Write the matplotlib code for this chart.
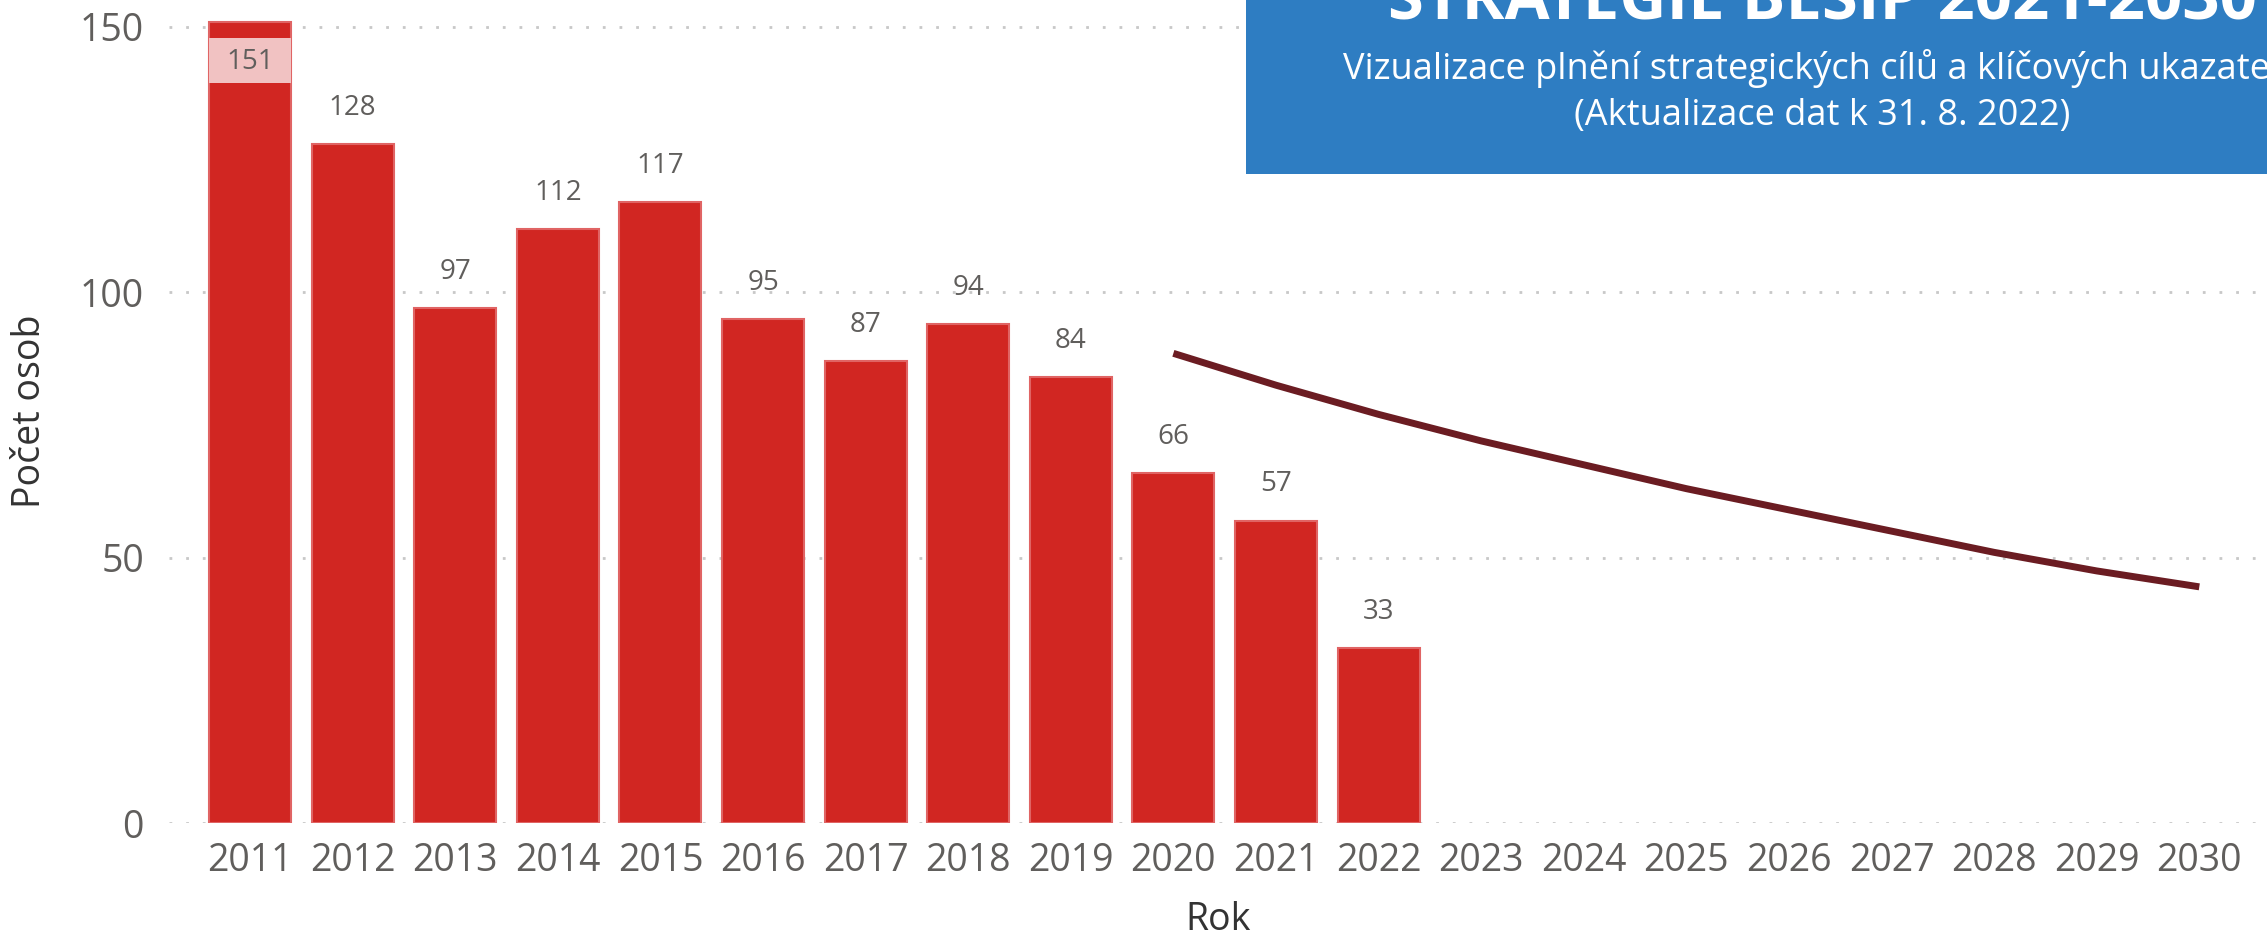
import matplotlib.pyplot as plt
from matplotlib.patches import Rectangle

# data
years = [str(y) for y in range(2011, 2031)]
actual = [151, 128, 97, 112, 117, 95, 87, 94, 84, 66, 57, 33]
target_years = [str(y) for y in range(2020, 2031)]
target = [88.5, 82.5, 77, 72, 67.5, 63, 59, 55, 51, 47.5, 44.5]
yticks = [0, 50, 100, 150]

plt.rcParams['font.family'] = ['Open Sans', 'DejaVu Sans']

bar_col = '#D12622'
edge_col = '#E06464'
line_col = '#6B1C22'
txt_col = '#605E5C'

fig = plt.figure(figsize=(22.67, 9.38), dpi=100)
ax = fig.add_axes([169 / 2267, 1 - 823 / 938, 1 - 169 / 2267, 823 / 938])

x = list(range(len(years)))
ax.bar(x[:len(actual)], actual, width=0.8, color=bar_col,
       edgecolor=edge_col, linewidth=1.5, zorder=2)

tx = [years.index(y) for y in target_years]
ax.plot(tx, target, color=line_col, linewidth=5, solid_capstyle='butt',
        zorder=3)

ax.set_xlim(-0.79, 19.66)
ax.set_ylim(0, 155.08)

# data labels
for i, v in enumerate(actual):
    if v + 10 > ax.get_ylim()[1]:
        ax.add_patch(Rectangle((i - 0.4, v - 11.6), 0.8, 8.5,
                               facecolor='#F1C2C2', edgecolor='none',
                               zorder=4))
        ax.text(i, v - 7.6, str(v), ha='center', va='center',
                fontsize=20, color=txt_col, zorder=5)
    else:
        ax.annotate(str(v), (i, v), xytext=(0, 26), textcoords='offset points',
                    ha='center', va='center', fontsize=20, color=txt_col)

ax.set_xticks(x)
ax.set_xticklabels(years)
ax.set_yticks(yticks)
ax.tick_params(axis='both', length=0, labelsize=27, colors=txt_col)
ax.tick_params(axis='x', pad=14)
ax.tick_params(axis='y', pad=18)

for s in ax.spines.values():
    s.set_visible(False)
ax.grid(axis='y', color='#C8C8C8', linestyle=(0, (1, 5)), linewidth=2,
        zorder=0)
ax.set_axisbelow(True)

ax.set_xlabel('Rok', fontsize=27, color='#333333', labelpad=15)
ax.set_ylabel('Počet osob', fontsize=27, color='#333333')
ax.yaxis.set_label_coords(-0.057, 0.5)

# header box top right
fig.patches.append(Rectangle((1246 / 2267, 1 - 174 / 938), 1, 174 / 938,
                             transform=fig.transFigure, facecolor='#2E7DC2',
                             edgecolor='none', zorder=10))
cx = 1822 / 2267
fig.text(cx, 1 - 20 / 938, 'STRATEGIE BESIP 2021-2030', ha='center',
         va='baseline', fontsize=47, fontweight='bold', color='white',
         zorder=11)
fig.text(cx, 1 - 68 / 938, 'Vizualizace plnění strategických cílů a klíčových ukazatelů',
         ha='center', va='center', fontsize=26, color='white', zorder=11)
fig.text(cx, 1 - 116 / 938, '(Aktualizace dat k 31. 8. 2022)',
         ha='center', va='center', fontsize=26, color='white', zorder=11)

fig.savefig('out.png', dpi=100)
